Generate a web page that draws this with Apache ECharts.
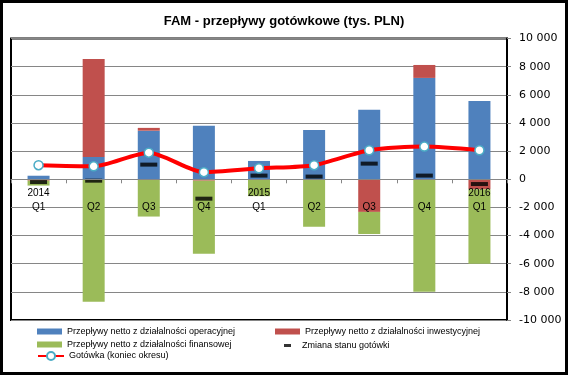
<!DOCTYPE html>
<html>
<head>
<meta charset="utf-8">
<script src="https://cdn.jsdelivr.net/npm/echarts@6/dist/echarts.min.js"></script>
<style>
  html, body { margin: 0; padding: 0; background: #fff; }
  #chart { width: 568px; height: 375px; }
</style>
</head>
<body>
<div id="chart"></div>
<script>
// quarters 2014Q1 .. 2016Q1
var years = ['2014', '', '', '', '2015', '', '', '', '2016']
var quarters = ['Q1', 'Q2', 'Q3', 'Q4', 'Q1', 'Q2', 'Q3', 'Q4', 'Q1']

var operacyjne = [250, 1580, 3450, 3800, 1300, 3500, 4930, 7200, 5560]
var inwestycyjne = [-100, 6970, 200, -100, -50, -50, -2320, 920, -710]
var finansowe = [-350, -8700, -2650, -5190, -1150, -3320, -1570, -7990, -5290]
var zmianaGotowki = [-200, -100, 1040, -1380, 260, 190, 1110, 260, -340]
var gotowka = [1000, 920, 1890, 500, 780, 1000, 2060, 2320, 2060]

var yTicks = [-10000, -8000, -6000, -4000, -2000, 0, 2000, 4000, 6000, 8000, 10000]

var names = [
  'Przepływy netto z działalności operacyjnej',
  'Przepływy netto z działalności inwestycyjnej',
  'Przepływy netto z działalności finansowej',
  'Zmiana stanu gotówki',
  'Gotówka (koniec okresu)'
]

var labels = years.map(function (y, i) { return y + '\n' + quarters[i] })

function fmt(v) {
  var s = String(Math.abs(v)).replace(/\B(?=(\d{3})+(?!\d))/g, ' ')
  return (v < 0 ? '-' : '') + s
}

var chart = echarts.init(document.getElementById('chart'), null, { renderer: 'canvas' })

var legendFont = { fontSize: 9, color: '#000', fontFamily: 'Liberation Sans, sans-serif' }

function legendAt(name, left, top, extra) {
  var l = {
    data: [name], left: left, top: top, padding: 0,
    itemWidth: 25, itemHeight: 6, icon: 'rect',
    textStyle: legendFont, selectedMode: false
  }
  for (var k in extra) l[k] = extra[k]
  return l
}

var option = {
  animation: false,
  backgroundColor: '#fff',
  title: {
    text: 'FAM - przepływy gotówkowe (tys. PLN)',
    left: 'center', top: 10,
    textStyle: { fontSize: 13, fontWeight: 'bold', color: '#000', fontFamily: 'Liberation Sans, sans-serif' }
  },
  graphic: [{
    type: 'rect', silent: true,
    shape: { x: 1.5, y: 1.5, width: 565, height: 372 },
    style: { fill: 'none', stroke: '#000', lineWidth: 3 }
  }],
  legend: [
    legendAt(names[0], 37, 327),
    legendAt(names[1], 275, 327),
    legendAt(names[2], 37, 340),
    legendAt(names[3], 284, 341, { itemWidth: 7, itemHeight: 3, textStyle: Object.assign({}, legendFont, { padding: [0, 0, 0, 6] }) }),
    legendAt(names[4], 37, 351, { itemWidth: 26, itemHeight: 10, icon: null })
  ],
  grid: {
    left: 11, right: 61, top: 38.5, bottom: 55,
    show: true, borderColor: '#000', borderWidth: 2
  },
  xAxis: {
    type: 'category',
    data: labels,
    z: 10,
    // move the category axis up to the zero line
    offset: -140.7,
    axisLine: { onZero: false, lineStyle: { color: '#868686', width: 1 } },
    axisTick: { show: true, interval: 0, length: 4, lineStyle: { color: '#868686' } },
    axisLabel: {
      interval: 0, margin: 7, color: '#000', fontSize: 10, lineHeight: 14,
      fontFamily: 'Liberation Sans, sans-serif'
    },
    splitLine: { show: false }
  },
  yAxis: {
    type: 'value',
    position: 'right',
    min: yTicks[0], max: yTicks[yTicks.length - 1], interval: 2000,
    axisLine: { show: true, lineStyle: { color: '#000', width: 2 } },
    axisTick: { show: true, length: 4, lineStyle: { color: '#868686' } },
    axisLabel: {
      margin: 12, color: '#000', fontSize: 11,
      fontFamily: 'DejaVu Sans, sans-serif',
      formatter: fmt
    },
    splitLine: { lineStyle: { color: '#868686', width: 1 } }
  },
  series: [
    {
      name: names[0], type: 'bar', stack: 'cf', barWidth: 22,
      itemStyle: { color: '#4f81bd' }, data: operacyjne
    },
    {
      name: names[1], type: 'bar', stack: 'cf', barWidth: 22,
      itemStyle: { color: '#c0504d' }, data: inwestycyjne
    },
    {
      name: names[2], type: 'bar', stack: 'cf', barWidth: 22,
      itemStyle: { color: '#9bbb59' }, data: finansowe
    },
    {
      name: names[3], type: 'scatter', symbol: 'rect', symbolSize: [17, 4],
      itemStyle: { color: '#000' }, z: 5, data: zmianaGotowki
    },
    {
      name: names[4], type: 'line', smooth: 0.25,
      symbol: 'circle', symbolSize: 9, showAllSymbol: true,
      lineStyle: { color: '#ff0000', width: 4 },
      itemStyle: { color: '#fff', borderColor: '#4bacc6', borderWidth: 1.5 },
      z: 6, data: gotowka
    }
  ]
}

chart.setOption(option)
</script>
</body>
</html>
